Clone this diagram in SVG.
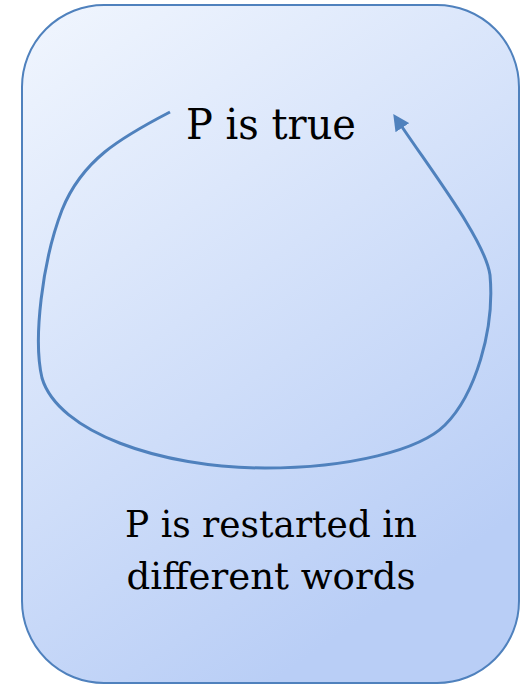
<svg xmlns="http://www.w3.org/2000/svg" width="522" height="685" viewBox="0 0 522 685">
<defs>
<linearGradient id="bg" x1="0" y1="0" x2="0.5" y2="1">
<stop offset="0" stop-color="#F1F6FE"/>
<stop offset="1" stop-color="#B9CEF6"/>
</linearGradient>
<marker id="arr" viewBox="0 0 10 10" refX="7" refY="5" markerWidth="5.5" markerHeight="5.5" orient="auto" markerUnits="strokeWidth">
<path d="M0,0 L10,5 L0,10 z" fill="#4F81BD"/>
</marker>
<style>
.lbl{fill:#000;text-anchor:middle}
.conn{fill:none;stroke:#4F81BD;stroke-width:3}
</style>
</defs>
<g id="frame">
<rect x="22" y="5" width="497" height="678" rx="82" ry="82" fill="url(#bg)" stroke="#4F81BD" stroke-width="2"/>
</g>
<g id="connectors">
<path class="conn" marker-end="url(#arr)" d="M170,112 C120,138 82,160 62,210 C42,262 33,340 42,378 C58,432 160,468 265,468 C350,468 420,450 445,425 C475,395 495,330 490,275 C485,240 432,172 396,118"/>
</g>
<g id="node-top">
<text class="lbl" x="271" y="139" font-family="'DejaVu Serif', 'Liberation Serif', serif" font-size="42" textLength="170" lengthAdjust="spacingAndGlyphs">P is true</text>
</g>
<g id="node-bottom">
<text class="lbl" x="271" y="537" font-family="'DejaVu Serif', 'Liberation Serif', serif" font-size="38" textLength="292" lengthAdjust="spacingAndGlyphs">P is restarted in</text>
<text class="lbl" x="271" y="589" font-family="'DejaVu Serif', 'Liberation Serif', serif" font-size="38" textLength="289" lengthAdjust="spacingAndGlyphs">different words</text>
</g>
</svg>
